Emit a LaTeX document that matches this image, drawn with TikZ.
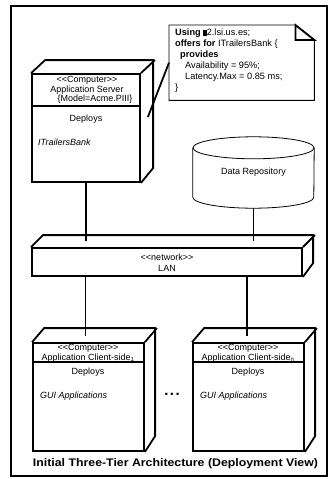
\documentclass[tikz,border=0pt]{standalone}
\usepackage{fontspec}
\usepackage{graphicx}
\setmainfont{Liberation Sans}
\newcommand{\ltlt}{<\kern0pt<}
\newcommand{\gtgt}{>\kern0pt>}
\begin{document}
\begin{tikzpicture}[x=1pt,y=1pt,
  thickln/.style={line width=1.8pt, line join=miter},
  thinln/.style={line width=0.8pt},
  txt/.style={font=\fontsize{9}{10}\selectfont, inner sep=0pt},
  face/.style={draw, line width=1.8pt, inner sep=0pt},
  ]
\useasboundingbox (0,0) rectangle (330,-479);
% frame
\draw[line width=1.6pt] (11,-6) rectangle (327,-476);

% Application server
\node[face, minimum width=108, minimum height=108] (srv) at (86,-128) {};
\draw[thickln] (srv.north west) -- ++(14,13) -- ++(108,0) -- ++(0,-108) -- (srv.south east);
\draw[thickln] (srv.north east) -- ++(14,13);
\draw[thickln] ([yshift=-33]srv.north west) -- ([yshift=-33]srv.north east);
\node[txt] (srvst) at (87,-80) {\ltlt Computer\gtgt};
\node[txt] (srvnm) at (87,-90) {Application Server};
\node[txt] (srvmd) at (95,-99.5) {\{Model=Acme.PIII\}};
\node[txt] (srvdp) at (86,-119) {Deploys};
\node[txt, anchor=west] (srvif) at (38,-142) {\itshape ITrailersBank};

% note
\node[minimum width=145, minimum height=75, inner sep=0pt, anchor=north west] (note) at (169,-25) {};
\draw[line width=0.9pt] (note.north west) -- ([xshift=-19]note.north east) -- ([yshift=-15]note.north east) -- (note.south east) -- (note.south west) -- cycle;
\draw[thickln] ([xshift=-19]note.north east) -- ([xshift=-19,yshift=-15]note.north east) -- ([yshift=-15]note.north east) -- cycle;
\node[txt, anchor=north west, align=left, font=\fontsize{9.2}{10.9}\selectfont] (notetxt) at (175,-29)
 {\textbf{Using} \rule[-0.5pt]{3.5pt}{6.5pt}2.lsi.us.es;\\
  \textbf{offers for} ITrailersBank \{\\
  \hspace{5pt}\textbf{provides}\\
  \hspace{10pt}Availability = 95\%;\\
  \hspace{10pt}Latency.Max = 0.85 ms;\\
  \}};
\coordinate (srvnote) at ([xshift=7,yshift=11]srv.east);
\draw[thickln] (srvnote) -- (note.west);

% data repository
\node[txt, minimum width=121, minimum height=71] (repo) at (253.5,-172.5) {Data Repository};
\draw[thinln] ([yshift=-11]repo.north) ellipse [x radius=60.5, y radius=11];
\draw[thinln] ([yshift=-11]repo.north west) -- ([yshift=11]repo.south west)
  arc[start angle=180, end angle=360, x radius=60.5, y radius=11] -- ([yshift=-11]repo.north east);

% LAN
\node[face, minimum width=270, minimum height=28] (lan) at (167,-262) {};
\draw[thickln] (lan.north west) -- ++(12,12) -- ++(270,0) -- ++(0,-28) -- (lan.south east);
\draw[thickln] (lan.north east) -- ++(12,12);
\node[txt] (lanst) at (167,-257) {\ltlt network\gtgt};
\node[txt] (lannm) at (167,-268) {LAN};

\coordinate (lanin) at ([yshift=6]lan.north);
\draw[thickln] (srv.south) -- (srv.south |- lanin);
\draw[thinln] (repo.south) -- (repo.south |- lanin);

% clients
\node[face, minimum width=111, minimum height=108] (cl1) at (88.5,-397) {};
\node[face, minimum width=111, minimum height=108] (cl2) at (248.5,-397) {};
\foreach \c in {cl1,cl2}{
  \draw[thickln] (\c.north west) -- ++(12,14) -- ++(111,0) -- ++(0,-108) -- (\c.south east);
  \draw[thickln] (\c.north east) -- ++(12,14);
  \draw[thickln] ([yshift=-20]\c.north west) -- ([yshift=-20]\c.north east);
}
\coordinate (l1) at ([xshift=-3]cl1.north);
\coordinate (l2) at ([xshift=-1.5]cl2.north);
\draw[thickln] (lan.south -| l1) -- ([yshift=6]l1);
\draw[thickln] (lan.south -| l2) -- ([yshift=6]l2);

\node[txt] (c1st) at (88,-348) {\ltlt Computer\gtgt};
\node[txt] (c1nm) at (88,-358) {Application Client-side\textsubscript{1}};
\node[txt] (c1dp) at (88,-372) {Deploys};
\node[txt, anchor=west] (c1gui) at (40,-396) {\itshape GUI Applications};

\node[txt] (c2st) at (248,-348) {\ltlt Computer\gtgt};
\node[txt] (c2nm) at (248,-358) {Application Client-side\textsubscript{n}};
\node[txt] (c2dp) at (248,-372) {Deploys};
\node[txt, anchor=west] (c2gui) at (200,-396) {\itshape GUI Applications};

\node[inner sep=0pt, font=\bfseries\fontsize{15}{16}\selectfont] (dots) at (172,-394) {.\hspace{1.5pt}.\hspace{1.5pt}.};

\node[inner sep=0pt, font=\bfseries\fontsize{11}{12}\selectfont] (title) at (175.5,-464) {\scalebox{1.12}[1]{Initial Three-Tier Architecture (Deployment View)}};
\end{tikzpicture}
\end{document}
